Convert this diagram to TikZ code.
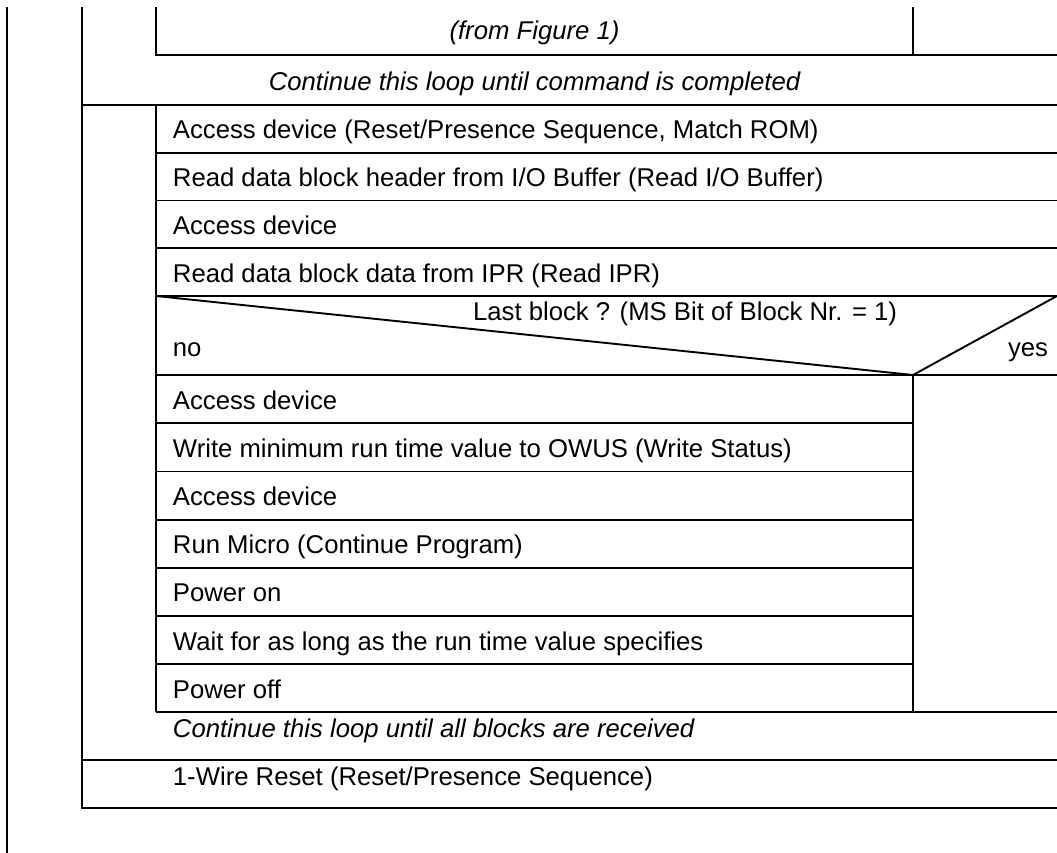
\documentclass[tikz,border=0pt]{standalone}
\usepackage{fontspec}
\setmainfont{Liberation Sans}

\begin{document}
\begin{tikzpicture}[x=1pt,y=-1pt,line width=1.9pt,
  cell/.style={anchor=base west,inner sep=0pt,font=\fontsize{25.7}{30}\selectfont},
  note/.style={inner sep=0pt,anchor=base,font=\fontsize{25.7}{30}\selectfont\itshape}]
 \useasboundingbox (0,0) rectangle (1057,853);

 % frame lines
 \draw (7,7) -- (7,853);
 \draw (82,7) -- (82,808) -- (1057,808);
 \draw (156,7) -- (156,55) -- (1057,55);
 \draw (913,7) -- (913,55);
 \draw (82,105) -- (1057,105);
 \draw (156,105) -- (156,712);
 \foreach \y in {152.75,200.5,248.25,296}
   \draw (156,\y) -- (1057,\y);
 \draw (156,296) -- (913,375) -- (1057,296);
 \draw (156,375) -- (1057,375);
 \draw (913,375) -- (913,712);
 \foreach \y in {423.3,471.5,519.6,567.8,616,664.1}
   \draw (156,\y) -- (913,\y);
 \draw (156,712) -- (1057,712);
 \draw (82,760) -- (1057,760);

 % texts
 \node[note] (fig) at (534.5,40) {(from Figure 1)};
 \node[note] (loopa) at (534.5,90.5) {Continue this loop until command is completed};
 \node[cell] (acc1) at (172,139) {Access device (Reset/Presence Sequence, Match ROM)};
 \node[cell] (hdr) at (172,186.7) {Read data block header from I/O Buffer (Read I/O Buffer)};
 \node[cell] (acc2) at (172,234.5) {Access device};
 \node[cell] (ipr) at (172,282.2) {Read data block data from IPR (Read IPR)};
 \node[cell,anchor=base east] (last) at (898,320) {Last block ? (MS Bit of Block Nr. = 1)};
 \node[cell] (no) at (172,356) {no};
 \node[cell,anchor=base east] (yes) at (1049,356) {yes};
 \node[cell] (acc3) at (172,409) {Access device};
 \node[cell] (owus) at (172,457.3) {Write minimum run time value to OWUS (Write Status)};
 \node[cell] (acc4) at (172,505.5) {Access device};
 \node[cell] (run) at (172,553.7) {Run Micro (Continue Program)};
 \node[cell] (pon) at (172,601.8) {Power on};
 \node[cell] (wait) at (172,650) {Wait for as long as the run time value specifies};
 \node[cell] (poff) at (172,698.1) {Power off};
 \node[cell,font=\fontsize{25.7}{30}\selectfont\itshape] (loopb) at (172,737.5) {Continue this loop until all blocks are received};
 \node[cell] (reset) at (172,785) {1-Wire Reset (Reset/Presence Sequence)};

\end{tikzpicture}
\end{document}
